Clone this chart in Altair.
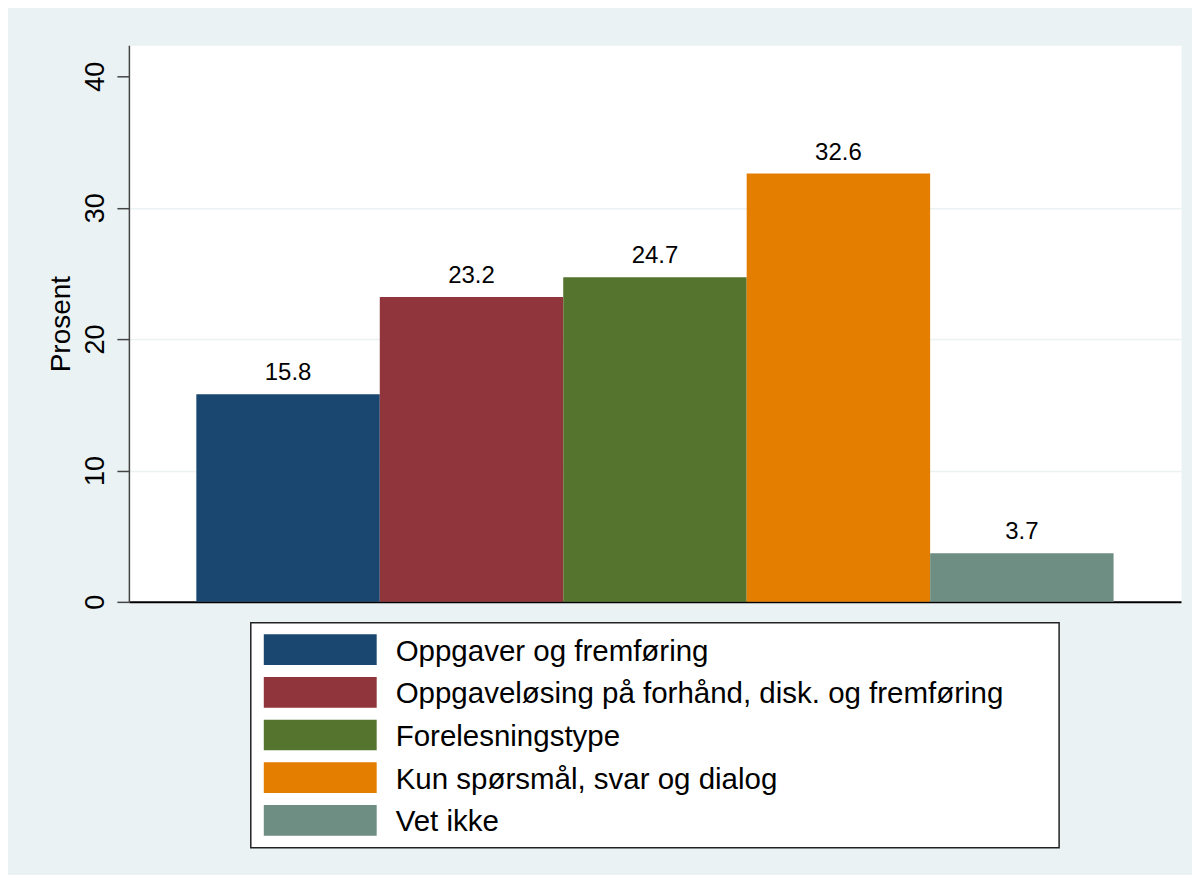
import altair as alt
import pandas as pd

kategorier = [
    "Oppgaver og fremføring",
    "Oppgaveløsing på forhånd, disk. og fremføring",
    "Forelesningstype",
    "Kun spørsmål, svar og dialog",
    "Vet ikke",
]
prosent = [15.8, 23.2, 24.7, 32.6, 3.7]
farger = ["#1A476F", "#90353B", "#55752F", "#E37E00", "#6E8E84"]
y_ticks = [0, 10, 20, 30, 40]

df = pd.DataFrame({"kat": kategorier, "verdi": prosent})

FONT = "Liberation Sans"
BG = "#EAF2F3"

color = alt.Color("kat:N", scale=alt.Scale(domain=kategorier, range=farger), legend=None)

x_enc = alt.X(
    "kat:N",
    sort=kategorier,
    scale=alt.Scale(paddingInner=0, paddingOuter=0.3676),
    axis=alt.Axis(labels=False, ticks=False, title=None, domainColor="black", domainWidth=2),
)
y_enc = alt.Y(
    "verdi:Q",
    scale=alt.Scale(domain=[0, 42.36], nice=False, zero=True),
    axis=alt.Axis(
        title="Prosent",
        titleFontSize=28,
        titleFontWeight="normal",
        titleColor="black",
        titlePadding=6,
        values=y_ticks,
        labelFontSize=27,
        labelAngle=270,
        labelAlign="center",
        labelBaseline="alphabetic",
        labelPadding=13,
        labelColor="black",
        labelOverlap=False,
        tickSize=12,
        tickColor="#444444",
        tickWidth=1.5,
        domainColor="#444444",
        domainWidth=1.5,
        grid=True,
        gridColor=BG,
        gridWidth=1.5,
        gridOpacity={"condition": {"test": "datum.value === 40 || datum.value === 0", "value": 0}, "value": 1},
    ),
)

bars = alt.Chart(df).mark_bar().encode(x=x_enc, y=y_enc, color=color)
labels = alt.Chart(df).mark_text(
    dy=-14, baseline="alphabetic", fontSize=24, color="black"
).encode(x=x_enc, y=y_enc, text=alt.Text("verdi:Q", format=".1f"))

top = alt.layer(bars, labels).properties(
    width=1053,
    height=557,
    view=alt.ViewBackground(fill="white", strokeOpacity=0),
)

y_leg = alt.Y(
    "kat:N",
    sort=kategorier,
    scale=alt.Scale(range=[11.5, 213], paddingInner=0.28, paddingOuter=0),
    axis=None,
)
leg_sym = alt.Chart(df).mark_rect().encode(
    x=alt.value(13), x2=alt.value(126), y=y_leg, color=color
)
leg_txt = alt.Chart(df).mark_text(
    align="left", baseline="middle", fontSize=29.5, dy=2, color="black"
).encode(x=alt.value(145), y=y_leg, text="kat:N")

legend = alt.layer(leg_sym, leg_txt).properties(
    width=809,
    height=225,
    view=alt.ViewBackground(fill="white", stroke="#222222", strokeWidth=1.5),
)

chart = (
    alt.vconcat(top, legend, spacing=21, center=True, bounds="flush")
    .resolve_scale(x="independent", y="independent")
    .properties(
        background=BG,
        padding={"left": 40, "top": 37, "right": 11, "bottom": 26},
    )
    .configure(font=FONT)
)

chart.save("out.html", embed_options={"renderer": "svg", "actions": False})
